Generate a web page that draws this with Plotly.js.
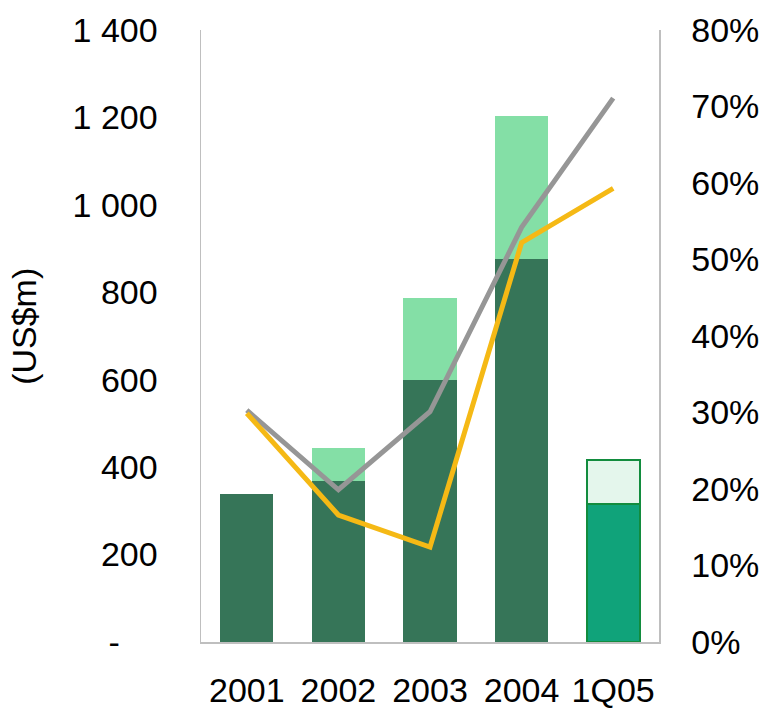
<!DOCTYPE html>
<html>
<head>
<meta charset="utf-8">
<script src="https://cdn.plot.ly/plotly-3.0.1.min.js"></script>
<style>html,body{margin:0;padding:0;background:#fff;}#chart{width:766px;height:710px;}</style>
</head>
<body>
<div id="chart"></div>
<script>
const categories = ['2001', '2002', '2003', '2004', '1Q05'];
const baseValues = [339, 368, 600, 876, 316];
const topValues = [0, 76, 187, 328, 100];
const grayLine = [0.303, 0.199, 0.301, 0.542, 0.711];
const yellowLine = [0.299, 0.166, 0.124, 0.522, 0.593];
const leftTickVals = [0, 200, 400, 600, 800, 1000, 1200, 1400];
const leftTickText = ['-\u00a0\u00a0\u00a0\u00a0', '200', '400', '600', '800', '1 000', '1 200', '1 400'];
const rightTickVals = [0, 0.1, 0.2, 0.3, 0.4, 0.5, 0.6, 0.7, 0.8];
const rightTickText = ['0%', '10%', '20%', '30%', '40%', '50%', '60%', '70%', '80%'];

const font = {family: 'Liberation Sans, Arial, sans-serif', size: 34, color: '#000'};

const traces = [
  {
    type: 'bar', x: categories, y: baseValues, yaxis: 'y',
    marker: {
      color: ['#367558', '#367558', '#367558', '#367558', '#10A37A'],
      line: {color: ['rgba(0,0,0,0)', 'rgba(0,0,0,0)', 'rgba(0,0,0,0)', 'rgba(0,0,0,0)', '#128C3E'], width: [0, 0, 0, 0, 2]}
    },
    hoverinfo: 'skip', showlegend: false
  },
  {
    type: 'bar', x: categories, y: topValues, yaxis: 'y',
    marker: {
      color: ['#84DFA6', '#84DFA6', '#84DFA6', '#84DFA6', '#E4F6EC'],
      line: {color: ['rgba(0,0,0,0)', 'rgba(0,0,0,0)', 'rgba(0,0,0,0)', 'rgba(0,0,0,0)', '#128C3E'], width: [0, 0, 0, 0, 2]}
    },
    hoverinfo: 'skip', showlegend: false
  },
  {
    type: 'scatter', mode: 'lines', x: categories, y: grayLine, yaxis: 'y2',
    line: {color: '#969696', width: 5},
    hoverinfo: 'skip', showlegend: false
  },
  {
    type: 'scatter', mode: 'lines', x: categories, y: yellowLine, yaxis: 'y2',
    line: {color: '#F5B915', width: 5},
    hoverinfo: 'skip', showlegend: false
  }
];

const layout = {
  width: 766, height: 710,
  margin: {l: 201, r: 107, t: 30, b: 68, pad: 0},
  paper_bgcolor: '#fff', plot_bgcolor: '#fff',
  font: font,
  barmode: 'stack', bargap: 0.42,
  showlegend: false,
  xaxis: {
    type: 'category', showgrid: false, zeroline: false,
    showline: true, linecolor: '#BFBFBF', linewidth: 1.5,
    ticks: 'outside', ticklen: 18, tickcolor: 'rgba(0,0,0,0)',
    tickfont: font, automargin: false
  },
  yaxis: {
    range: [0, 1400], tickvals: leftTickVals, ticktext: leftTickText,
    showgrid: false, zeroline: false,
    showline: true, linecolor: '#BFBFBF', linewidth: 1.5,
    ticks: 'outside', ticklen: 35, tickcolor: 'rgba(0,0,0,0)',
    tickfont: font, automargin: false
  },
  yaxis2: {
    overlaying: 'y', side: 'right',
    range: [0, 0.8], tickvals: rightTickVals, ticktext: rightTickText,
    showgrid: false, zeroline: false,
    showline: true, linecolor: '#BFBFBF', linewidth: 1.5,
    ticks: 'outside', ticklen: 24, tickcolor: 'rgba(0,0,0,0)',
    tickfont: font, automargin: false
  },
  annotations: [{
    text: '(US$m)', xref: 'paper', yref: 'paper',
    x: -0.3864, y: 0.515, xanchor: 'center', yanchor: 'middle',
    textangle: -90, showarrow: false, font: font
  }]
};

Plotly.newPlot('chart', traces, layout, {displayModeBar: false, staticPlot: true});
</script>
</body>
</html>
